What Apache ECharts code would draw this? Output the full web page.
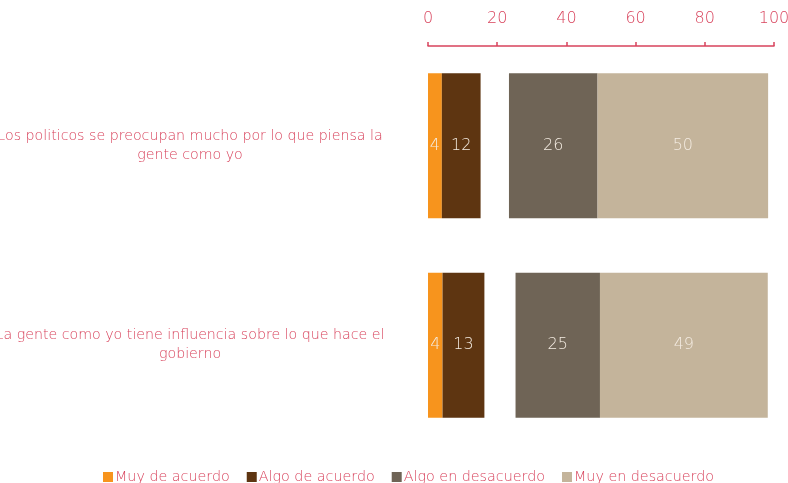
<!DOCTYPE html>
<html>
<head>
<meta charset="utf-8">
<script src="https://cdn.jsdelivr.net/npm/echarts@6/dist/echarts.min.js"></script>
<style>
html,body{margin:0;padding:0;background:#fff;}
#chart{width:788px;height:483px;}
</style>
</head>
<body>
<div id="chart"></div>
<script>
var categories = [
  "Los politicos se preocupan mucho por lo que piensa la\ngente como yo",
  "La gente como yo tiene influencia sobre lo que hace el\ngobierno"
];
var seriesNames = ["Muy de acuerdo", "Algo de acuerdo", "Algo en desacuerdo", "Muy en desacuerdo"];
var muyDeAcuerdo = [4.0, 4.2];
var algoDeAcuerdo = [11.2, 12.1];
var spacer = [8.2, 9.0];
var algoEnDesacuerdo = [25.6, 24.4];
var muyEnDesacuerdo = [49.3, 48.5];
var labelsMuyDeAcuerdo = [4, 4];
var labelsAlgoDeAcuerdo = [12, 13];
var labelsAlgoEnDesacuerdo = [26, 25];
var labelsMuyEnDesacuerdo = [50, 49];
var xTicks = [0, 20, 40, 60, 80, 100];

var FONT = "'DejaVu Sans'";
var PINK = '#D8435C';
var colors = ['#F7941D', '#5E3511', '#6F6456', '#C4B49B'];

function mk(name, data, labels, color) {
  return {
    name: name, type: 'bar', stack: 'total', barWidth: 145,
    data: data,
    itemStyle: {color: color},
    label: {
      show: true, position: 'inside', color: '#F4ECE2',
      fontFamily: FONT, fontWeight: 200, fontSize: 16,
      formatter: function (p) { return String(labels[p.dataIndex]); }
    }
  };
}

var chart = echarts.init(document.getElementById('chart'));
chart.setOption({
  animation: false,
  textStyle: {fontFamily: FONT},
  grid: {left: 428, right: 14, top: 46, bottom: 38, containLabel: false, outerBoundsMode: 'none'},
  legend: {
    data: seriesNames, top: 465, left: 98,
    itemWidth: 10, itemHeight: 10, itemGap: 17,
    icon: 'rect',
    textStyle: {color: PINK, fontFamily: FONT, fontWeight: 200, fontSize: 14.3, padding: [0, 0, 0, -3]}
  },
  xAxis: {
    type: 'value', position: 'top', min: 0, max: 100, interval: 20,
    axisLine: {show: true, lineStyle: {color: PINK, width: 1.5}},
    axisTick: {show: true, length: 4, lineStyle: {color: PINK, width: 1.5}},
    splitLine: {show: false},
    axisLabel: {
      color: PINK, fontFamily: FONT, fontWeight: 200, fontSize: 16, margin: 19,
      customValues: xTicks
    }
  },
  yAxis: {
    type: 'category', inverse: true, data: categories,
    axisLine: {show: false}, axisTick: {show: false},
    axisLabel: {
      color: PINK, fontFamily: FONT, fontWeight: 200, fontSize: 14.2, lineHeight: 19,
      align: 'center', margin: 238, padding: [7, 0, 0, 0]
    }
  },
  series: [
    mk(seriesNames[0], muyDeAcuerdo, labelsMuyDeAcuerdo, colors[0]),
    mk(seriesNames[1], algoDeAcuerdo, labelsAlgoDeAcuerdo, colors[1]),
    {
      name: 'spacer', type: 'bar', stack: 'total', barWidth: 145, data: spacer,
      itemStyle: {color: 'rgba(0,0,0,0)'}, label: {show: false}, silent: true
    },
    mk(seriesNames[2], algoEnDesacuerdo, labelsAlgoEnDesacuerdo, colors[2]),
    mk(seriesNames[3], muyEnDesacuerdo, labelsMuyEnDesacuerdo, colors[3])
  ]
});
</script>
</body>
</html>
